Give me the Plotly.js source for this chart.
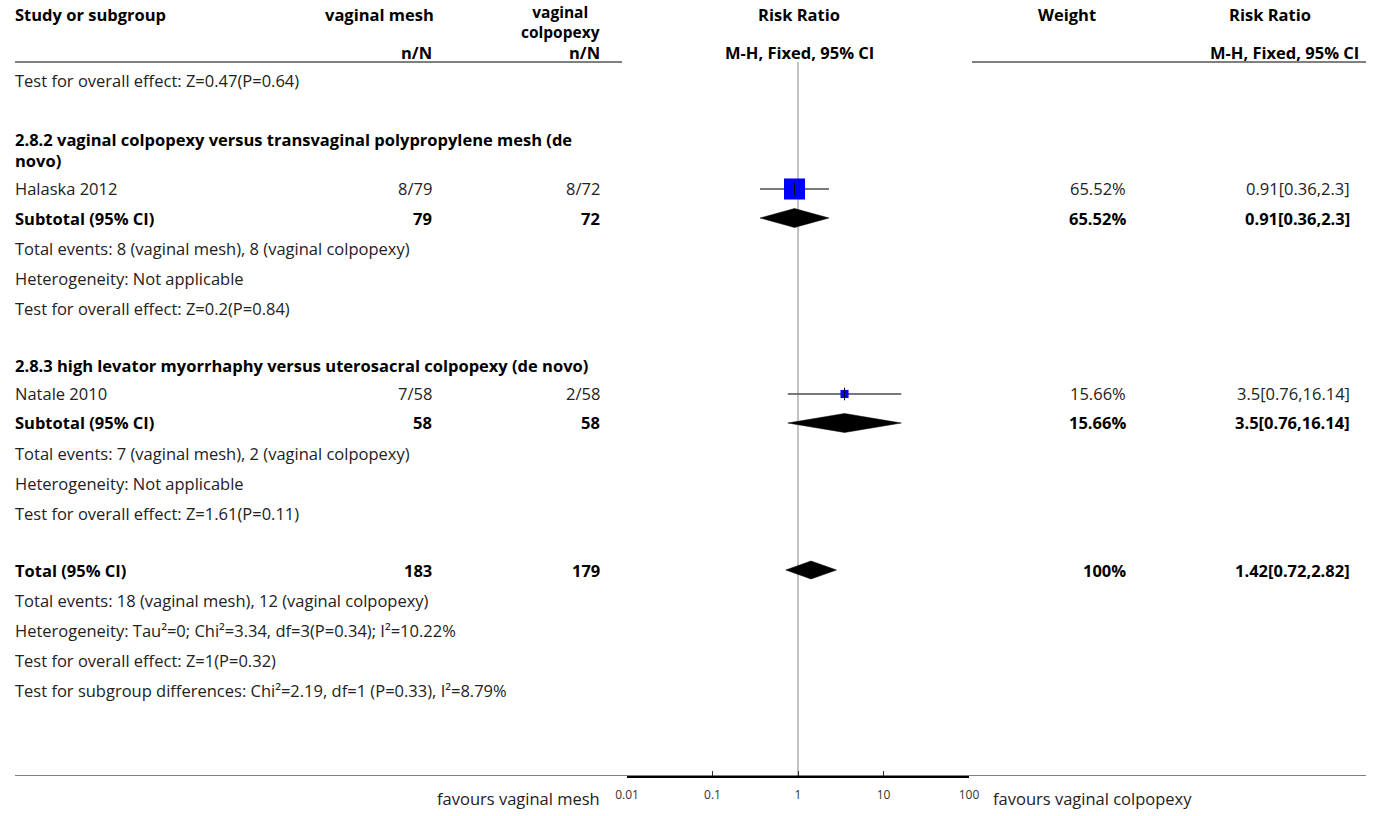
<!DOCTYPE html>
<html>
<head>
<meta charset="utf-8">
<script src="https://cdn.plot.ly/plotly-3.0.1.min.js"></script>
<style>html,body{margin:0;padding:0;background:#fff;}#chart{width:1373px;height:816px;}</style>
</head>
<body>
<div id="chart"></div>
<script>
// ---------- DATA ----------
const studyNames = ["Halaska 2012", "Natale 2010"];
const meshEvents = [8, 7];
const meshTotals = [79, 58];
const colpEvents = [8, 2];
const colpTotals = [72, 58];
const studyRR = [0.91, 3.5];
const studyLo = [0.36, 0.76];
const studyHi = [2.3, 16.14];
const studyWeight = [65.52, 15.66];

const subgroupTitles = [
  ["2.8.2 vaginal colpopexy versus transvaginal polypropylene mesh (de", "novo)"],
  ["2.8.3 high levator myorrhaphy versus uterosacral colpopexy (de novo)"]
];
const subtotalMeshN = [79, 58];
const subtotalColpN = [72, 58];
const subtotalRR = [0.91, 3.5];
const subtotalLo = [0.36, 0.76];
const subtotalHi = [2.3, 16.14];
const subtotalWeight = [65.52, 15.66];
const subtotalEventsText = [
  "Total events: 8 (vaginal mesh), 8 (vaginal colpopexy)",
  "Total events: 7 (vaginal mesh), 2 (vaginal colpopexy)"
];
const subtotalHetText = ["Heterogeneity: Not applicable", "Heterogeneity: Not applicable"];
const subtotalTestText = ["Test for overall effect: Z=0.2(P=0.84)", "Test for overall effect: Z=1.61(P=0.11)"];
const priorTestText = "Test for overall effect: Z=0.47(P=0.64)";

const totalMeshN = 183;
const totalColpN = 179;
const totalRR = 1.42;
const totalLo = 0.72;
const totalHi = 2.82;
const totalWeight = 100;
const totalTexts = [
  "Total events: 18 (vaginal mesh), 12 (vaginal colpopexy)",
  "Heterogeneity: Tau\u00b2=0; Chi\u00b2=3.34, df=3(P=0.34); I\u00b2=10.22%",
  "Test for overall effect: Z=1(P=0.32)",
  "Test for subgroup differences: Chi\u00b2=2.19, df=1 (P=0.33), I\u00b2=8.79%"
];
const colHeaders = ["Study or subgroup", "vaginal mesh", ["vaginal", "colpopexy"], "Risk Ratio", "Weight", "Risk Ratio"];
const subHeaders = ["n/N", "n/N", "M-H, Fixed, 95% CI", "M-H, Fixed, 95% CI"];
const tickVals = [0.01, 0.1, 1, 10, 100];
const tickLabels = ["0.01", "0.1", "1", "10", "100"];
const favoursLeft = "favours vaginal mesh";
const favoursRight = "favours vaginal colpopexy";

// ---------- LAYOUT CONSTANTS ----------
const W = 1373, H = 816;
const FONT = "Open Sans, sans-serif";
const FS = 16.5;
const TXT = "#222";
const headerLineY = 62, bottomLineY = 776;
const colStudyX = 14, col1R = 433, col2R = 601, col1C = 379, col2C = 560;
const plotL = 627, plotR = 969, plotC = 799;
const weightR = 1127, weightC = 1067, rrR = 1351, rrC = 1270, rrSubC = 1284;
const rowTest0 = 81;
const blockTop = [140, 365];
const studyRowY = [189, 394];
const subRowY = [218, 423];
const totalRowY = 570;
const pitch = 30;

const ann = [];
function txt(x, y, s, anchor, bold, size) {
  const lines = Array.isArray(s) ? s : [s];
  const body = lines.join("<br>");
  ann.push({
    xref: "paper", yref: "paper", x: x / W, y: (H - y) / H,
    text: bold ? "<b>" + body + "</b>" : body,
    showarrow: false, xanchor: anchor, yanchor: "middle", align: anchor === "center" ? "center" : anchor,
    borderpad: 0,
    font: {family: FONT, size: size || FS, color: bold ? "#000" : TXT}
  });
}

// header
txt(colStudyX, 14, colHeaders[0], "left", true);
txt(col1C, 14, colHeaders[1], "center", true);
txt(col2C, 21.5, colHeaders[2], "center", true, 15.5);
txt(plotC, 14, colHeaders[3], "center", true);
txt(weightC, 14, colHeaders[4], "center", true);
txt(rrC, 14, colHeaders[5], "center", true);
txt(col1R, 53, subHeaders[0], "right", true);
txt(col2R, 53, subHeaders[1], "right", true);
txt(plotC, 52, subHeaders[2], "center", true);
txt(rrSubC, 52, subHeaders[3], "center", true);

txt(colStudyX, rowTest0, priorTestText, "left", false);

const fmtCI = (r, l, h) => r + "[" + l + "," + h + "]";
const traces = [];

for (let g = 0; g < 2; g++) {
  const nLines = subgroupTitles[g].length;
  txt(colStudyX, blockTop[g] + (nLines - 1) * 10, subgroupTitles[g], "left", true);
  const ys = studyRowY[g];
  txt(colStudyX, ys, studyNames[g], "left", false);
  txt(col1R, ys, meshEvents[g] + "/" + meshTotals[g], "right", false);
  txt(col2R, ys, colpEvents[g] + "/" + colpTotals[g], "right", false);
  txt(weightR, ys, studyWeight[g].toFixed(2) + "%", "right", false);
  txt(rrR, ys, fmtCI(studyRR[g], studyLo[g], studyHi[g]), "right", false);
  traces.push({x: [studyLo[g], studyHi[g]], y: [ys, ys], mode: "lines",
    line: {color: "#4d4d4d", width: 1.5}, hoverinfo: "skip"});
  traces.push({x: [studyRR[g]], y: [ys], mode: "markers",
    marker: {symbol: "square", size: 4 + studyWeight[g] * 0.26, color: "#0000ff", line: {width: 0}}, hoverinfo: "skip"});
  traces.push({x: [studyRR[g]], y: [ys], mode: "markers",
    marker: {symbol: "line-ns", size: 9, line: {color: "#000", width: 1}}, hoverinfo: "skip"});

  const ysub = subRowY[g];
  txt(colStudyX, ysub, "Subtotal (95% CI)", "left", true);
  txt(col1R, ysub, String(subtotalMeshN[g]), "right", true);
  txt(col2R, ysub, String(subtotalColpN[g]), "right", true);
  txt(weightR, ysub, subtotalWeight[g].toFixed(2) + "%", "right", true);
  txt(rrR, ysub, fmtCI(subtotalRR[g], subtotalLo[g], subtotalHi[g]), "right", true);
  traces.push({x: [subtotalLo[g], subtotalRR[g], subtotalHi[g], subtotalRR[g], subtotalLo[g]],
    y: [ysub, ysub - 9.5, ysub, ysub + 9.5, ysub], mode: "lines", fill: "toself",
    fillcolor: "#000", line: {color: "#000", width: 0.5}, hoverinfo: "skip"});

  txt(colStudyX, ysub + pitch, subtotalEventsText[g], "left", false);
  txt(colStudyX, ysub + 2 * pitch, subtotalHetText[g], "left", false);
  txt(colStudyX, ysub + 3 * pitch, subtotalTestText[g], "left", false);
}

txt(colStudyX, totalRowY, "Total (95% CI)", "left", true);
txt(col1R, totalRowY, String(totalMeshN), "right", true);
txt(col2R, totalRowY, String(totalColpN), "right", true);
txt(weightR, totalRowY, totalWeight + "%", "right", true);
txt(rrR, totalRowY, fmtCI(totalRR, totalLo, totalHi), "right", true);
traces.push({x: [totalLo, totalRR, totalHi, totalRR, totalLo],
  y: [totalRowY, totalRowY - 9, totalRowY, totalRowY + 9, totalRowY], mode: "lines", fill: "toself",
  fillcolor: "#000", line: {color: "#000", width: 0.5}, hoverinfo: "skip"});
totalTexts.forEach((t, i) => txt(colStudyX, totalRowY + (i + 1) * pitch, t, "left", false));

txt(601, 798, favoursLeft, "right", false);
txt(992, 798, favoursRight, "left", false);

const shapes = [
  {type: "line", xref: "paper", yref: "y", x0: 15 / W, x1: 622 / W, y0: headerLineY, y1: headerLineY, line: {color: "#000", width: 1}},
  {type: "line", xref: "paper", yref: "y", x0: 972 / W, x1: 1366 / W, y0: headerLineY, y1: headerLineY, line: {color: "#000", width: 1}},
  {type: "line", xref: "paper", yref: "y", x0: 15 / W, x1: 1366 / W, y0: bottomLineY, y1: bottomLineY, line: {color: "#000", width: 1}},
  {type: "line", xref: "x", yref: "y", x0: 1, x1: 1, y0: headerLineY, y1: bottomLineY, line: {color: "#9a9a9a", width: 1.2}, layer: "below"}
];

const layout = {
  width: W, height: H,
  margin: {l: 0, r: 0, t: 0, b: 0},
  paper_bgcolor: "#fff", plot_bgcolor: "rgba(0,0,0,0)",
  showlegend: false,
  xaxis: {
    type: "log", range: [-2, 2], domain: [plotL / W, plotR / W],
    tickvals: tickVals, ticktext: tickLabels,
    ticks: "inside", ticklen: 5, tickcolor: "#333", tickwidth: 1,
    showline: true, linecolor: "#000", linewidth: 2,
    showgrid: false, zeroline: false, fixedrange: true,
    tickfont: {family: FONT, size: 12, color: "#333"},
    ticklabelstandoff: 7
  },
  yaxis: {
    range: [bottomLineY, 0], domain: [(H - bottomLineY) / H, 1],
    visible: false, showgrid: false, zeroline: false, fixedrange: true
  },
  annotations: ann,
  shapes: shapes
};

Plotly.newPlot("chart", traces, layout, {staticPlot: true, displayModeBar: false});
</script>
</body>
</html>
